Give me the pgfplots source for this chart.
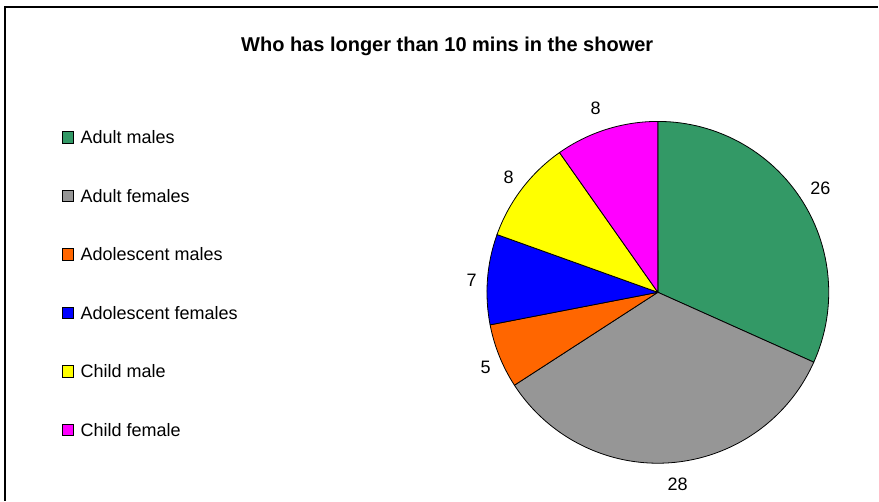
\documentclass[border=0pt]{standalone}
\usepackage{pgfplots}
\pgfplotsset{compat=1.18}
\usepackage{pgfplotstable}
\usepackage{fontspec}
\setmainfont{Liberation Sans}
\definecolor{cAM}{RGB}{51,153,102}
\definecolor{cAF}{RGB}{150,150,150}
\definecolor{cOM}{RGB}{255,102,0}
\definecolor{cOF}{RGB}{0,0,255}
\definecolor{cCM}{RGB}{255,255,0}
\definecolor{cCF}{RGB}{255,0,255}

\pgfplotstableread[col sep=comma]{
label,value,color,lx,ly,legy
Adult males,26,cAM,821,188,137.5
Adult females,28,cAF,678,485,196
Adolescent males,5,cOM,486,368,254.5
Adolescent females,7,cOF,472,281,313
Child male,8,cCM,509,177,371.5
Child female,8,cCF,596,108,430
}\piedata

\begin{document}
\begin{tikzpicture}
\begin{axis}[
  scale only axis, width=879bp, height=501bp,
  xmin=0, xmax=879, ymin=0, ymax=501, y dir=reverse,
  hide axis, clip=false]
\path (axis cs:0,0) (axis cs:879,501);
\pgfplotsextra{
  % frame (only left and top edges are visible)
  \draw[black, line width=1.2bp] (axis cs:5,501) -- (axis cs:5,7) -- (axis cs:879,7);
  % title
  \node[font=\bfseries\fontsize{20bp}{23bp}\selectfont, anchor=base, inner sep=0pt] at (axis cs:447.5,51.7) {Who has longer than 10 mins in the shower};
  % total
  \xdef\pietotal{0}
  \foreach \i in {0,...,5}{
    \pgfplotstablegetelem{\i}{value}\of\piedata
    \pgfmathsetmacro{\tmp}{\pietotal+\pgfplotsretval}
    \xdef\pietotal{\tmp}
  }
  \xdef\startang{90}
  \foreach \i in {0,...,5}{
    \pgfplotstablegetelem{\i}{value}\of\piedata \let\sliceval\pgfplotsretval
    \pgfplotstablegetelem{\i}{color}\of\piedata \let\slicecol\pgfplotsretval
    \pgfplotstablegetelem{\i}{lx}\of\piedata \let\lx\pgfplotsretval
    \pgfplotstablegetelem{\i}{ly}\of\piedata \let\ly\pgfplotsretval
    \pgfplotstablegetelem{\i}{legy}\of\piedata \let\legy\pgfplotsretval
    \pgfplotstablegetelem{\i}{label}\of\piedata \let\slicelab\pgfplotsretval
    \pgfmathsetmacro{\endang}{\startang-\sliceval/\pietotal*360}
    \filldraw[fill=\slicecol, draw=black, line width=0.8bp, line join=round]
      (axis cs:658.3,292.5) -- ++(\startang:171bp)
      arc[start angle=\startang, end angle=\endang, radius=171bp] -- cycle;
    \node[font=\fontsize{18bp}{21bp}\selectfont, inner sep=0pt] at (axis cs:\lx,\ly) {\sliceval};
    % legend
    \pgfmathsetmacro{\ya}{\legy-5.8}
    \pgfmathsetmacro{\yb}{\legy+5.8}
    \pgfmathsetmacro{\yt}{\legy+6.5}
    \filldraw[fill=\slicecol, draw=black, line width=0.7bp] (axis cs:62.3,\ya) rectangle (axis cs:73.7,\yb);
    \node[font=\fontsize{18bp}{21bp}\selectfont, anchor=base west, inner sep=0pt] at (axis cs:80.5,\yt) {\slicelab};
    \xdef\startang{\endang}
  }
}
\end{axis}
\end{tikzpicture}
\end{document}
